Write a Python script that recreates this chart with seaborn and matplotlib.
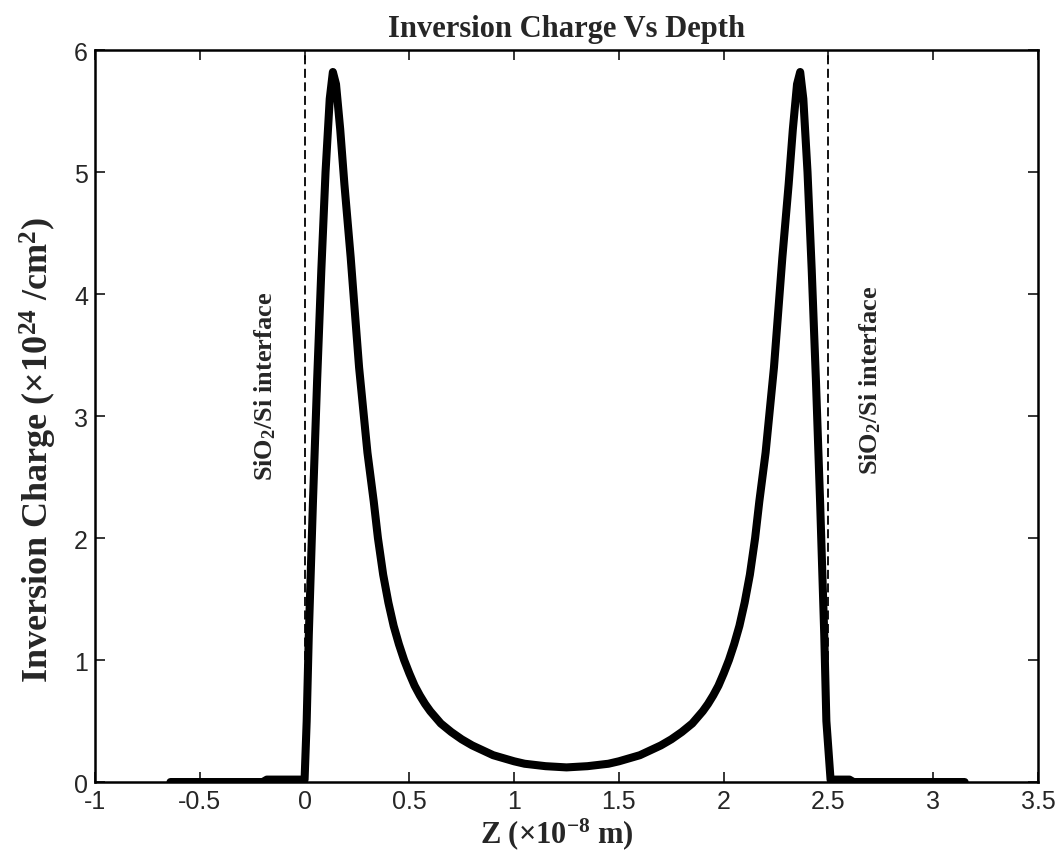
import numpy as np
import pandas as pd
import matplotlib
matplotlib.use("Agg")
import matplotlib.pyplot as plt
import seaborn as sns

# depth (x1e-8 m) and inversion charge (x1e24 /cm^2)
z_left = [-0.64, -0.2, -0.18, 0.0, 0.01, 0.02, 0.04, 0.06, 0.08, 0.10, 0.12, 0.135,
          0.15, 0.17, 0.19, 0.22, 0.26, 0.30, 0.33, 0.35, 0.375, 0.40, 0.425, 0.45,
          0.475, 0.50, 0.525, 0.55, 0.575, 0.60, 0.65, 0.70, 0.75, 0.80, 0.85, 0.90,
          0.95, 1.00, 1.05, 1.10, 1.15, 1.20, 1.25]
q_left = [0.0, 0.0, 0.02, 0.02, 0.5, 1.2, 2.3, 3.3, 4.2, 5.0, 5.6, 5.82,
          5.72, 5.35, 4.9, 4.3, 3.4, 2.7, 2.3, 2.0, 1.7, 1.47, 1.28, 1.13,
          1.0, 0.89, 0.79, 0.71, 0.64, 0.58, 0.48, 0.41, 0.35, 0.30, 0.26, 0.22,
          0.195, 0.17, 0.15, 0.14, 0.13, 0.125, 0.12]

z_right = [1.30, 1.35, 1.40, 1.45, 1.50, 1.55, 1.60, 1.65, 1.70, 1.75, 1.80, 1.85,
           1.90, 1.925, 1.95, 1.975, 2.00, 2.025, 2.05, 2.075, 2.10, 2.125, 2.15,
           2.17, 2.20, 2.24, 2.28, 2.31, 2.33, 2.35, 2.365, 2.38, 2.40, 2.42, 2.44,
           2.46, 2.48, 2.49, 2.51, 2.60, 2.62, 3.15]
q_right = [0.125, 0.13, 0.14, 0.15, 0.17, 0.195, 0.22, 0.26, 0.30, 0.35, 0.41, 0.48,
           0.58, 0.64, 0.71, 0.79, 0.89, 1.0, 1.13, 1.28, 1.47, 1.7, 2.0,
           2.3, 2.7, 3.4, 4.3, 4.9, 5.35, 5.72, 5.82, 5.6, 5.0, 4.2, 3.3,
           2.3, 1.2, 0.5, 0.02, 0.02, 0.0, 0.0]

interfaces = [0.0, 2.5]
interface_label = "SiO$_2$/Si interface"
label_pos = [(-0.19, 3.25), (2.70, 3.3)]

xticks = [-1, -0.5, 0, 0.5, 1, 1.5, 2, 2.5, 3, 3.5]
xtick_labels = ["-1", "-0.5", "0", "0.5", "1", "1.5", "2", "2.5", "3", "3.5"]
yticks = [0, 1, 2, 3, 4, 5, 6]

df = pd.DataFrame({"z": z_left + z_right, "q": q_left + q_right})

sns.set_style("ticks")
plt.rcParams["font.family"] = ["Liberation Sans", "DejaVu Sans"]
plt.rcParams["mathtext.fontset"] = "custom"
plt.rcParams["mathtext.rm"] = "Liberation Serif:bold"
plt.rcParams["mathtext.it"] = "Liberation Serif:bold"
plt.rcParams["mathtext.bf"] = "Liberation Serif:bold"

fig = plt.figure(figsize=(10.63, 8.62), dpi=100)
ax = fig.add_axes([0.0894, 0.0916, 0.8871, 0.8492])

sns.lineplot(data=df, x="z", y="q", ax=ax, color="black", linewidth=5.8,
             sort=False, estimator=None, solid_joinstyle="round",
             solid_capstyle="round")

for xi in interfaces:
    ax.axvline(xi, color="black", linewidth=1.3, linestyle=(0, (5, 2.5)))

serif = ["Liberation Serif", "DejaVu Serif"]
for (tx, ty) in label_pos:
    ax.text(tx, ty, interface_label, rotation=90, ha="center", va="center",
            fontsize=19, fontweight="bold", family=serif)

ax.set_xlim(-1, 3.5)
ax.set_ylim(0, 6)
ax.set_xticks(xticks)
ax.set_xticklabels(xtick_labels)
ax.set_yticks(yticks)
ax.tick_params(direction="in", top=True, right=True, length=7, width=1.3,
               labelsize=18, pad=5)
for sp in ax.spines.values():
    sp.set_linewidth(1.8)
    sp.set_color("black")

ax.set_title("Inversion Charge Vs Depth", fontsize=22, fontweight="bold",
             family=serif, pad=10)
ax.set_xlabel("Z (×10$^{-8}$ m)", fontsize=22, fontweight="bold", family=serif,
              labelpad=2)
ax.set_ylabel("Inversion Charge (×10$^{24}$ /cm$^{2}$)", fontsize=26,
              fontweight="bold", family=serif)
ax.yaxis.set_label_coords(-0.038, 0.455)
ax.xaxis.set_label_coords(0.49, -0.045)

fig.savefig("out.png", dpi=100)
